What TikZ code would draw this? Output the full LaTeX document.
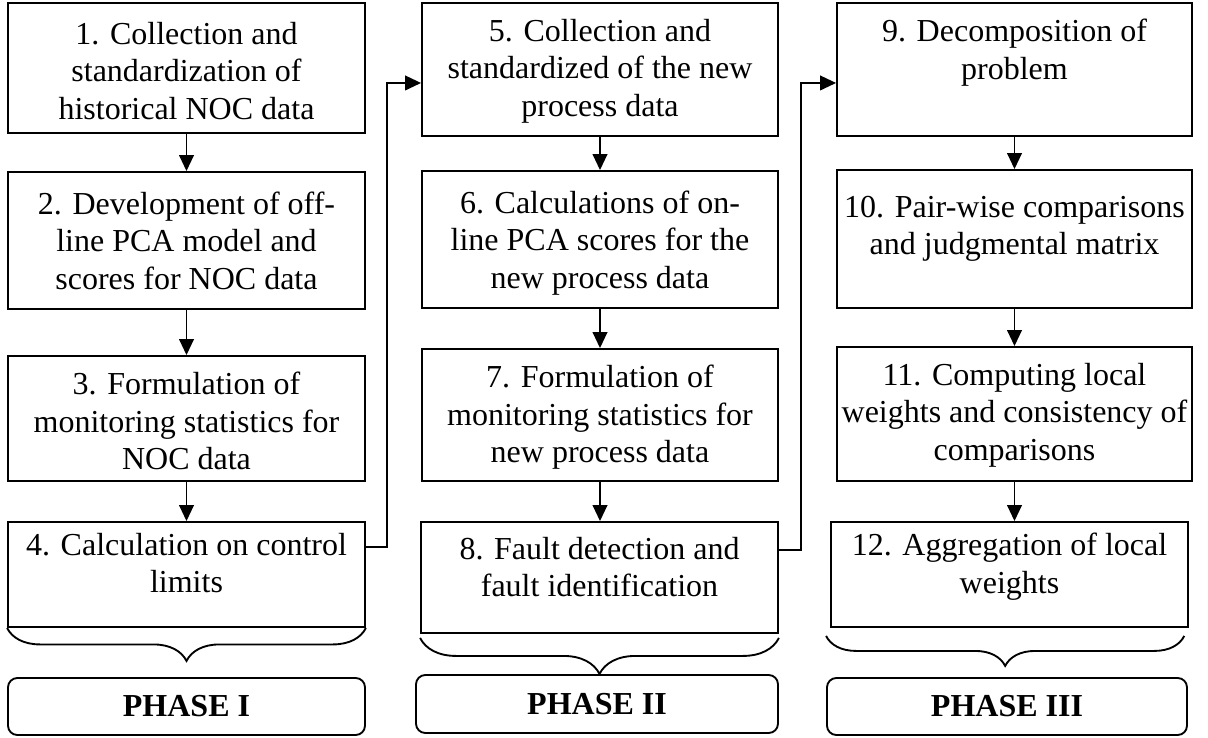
\documentclass[tikz,border=0pt]{standalone}
\usepackage{fontspec}
\setmainfont{Liberation Serif}
\usetikzlibrary{positioning,fit,arrows.meta,decorations.pathreplacing}

\tikzset{
  stepbox/.style={draw, line width=1.4pt, inner sep=0pt},
  steptext/.style={align=center, inner sep=0pt, font=\fontsize{24}{28}\selectfont},
  phasebox/.style={draw, line width=1.4pt, rounded corners=7pt, inner sep=0pt,
    font=\fontsize{24}{28}\selectfont\bfseries},
  flow/.style={line width=1.4pt, -{Triangle[length=12pt,width=11pt]}},
  phasebrace/.style={line width=1.4pt, decorate, decoration={brace, mirror, amplitude=#1}}
}

\begin{document}
\begin{tikzpicture}[x=0.75pt, y=-0.75pt]
\useasboundingbox (0,0) rectangle (1208,738);

% phase I column
\node[stepbox, fit={(8,3) (365,133)}] (s1) {};
\node[stepbox, fit={(8,172) (365,309)}] (s2) {};
\node[stepbox, fit={(8,356) (365,481)}] (s3) {};
\node[stepbox, fit={(8,522) (365,627)}] (s4) {};
\node[steptext, below=15pt of s1.north] (t1) {1. Collection and\\standardization of\\historical NOC data};
\node[steptext, below=15.5pt of s2.north] (t2) {2. Development of off-\\line PCA model and\\scores for NOC data};
\node[steptext, below=12.75pt of s3.north] (t3) {3. Formulation of\\monitoring statistics for\\NOC data};
\node[steptext, below=9pt of s4.north] (t4) {4. Calculation on control\\limits};

% phase II column
\node[stepbox, fit={(422,3) (778,136)}] (s5) {};
\node[stepbox, fit={(422,171) (778,308)}] (s6) {};
\node[stepbox, fit={(422,349) (778,481)}] (s7) {};
\node[stepbox, fit={(421,522) (778,633)}] (s8) {};
\node[steptext, below=12.75pt of s5.north] (t5) {5. Collection and\\standardized of the new\\process data};
\node[steptext, below=15.5pt of s6.north] (t6) {6. Calculations of on-\\line PCA scores for the\\new process data};
\node[steptext, below=12.75pt of s7.north] (t7) {7. Formulation of\\monitoring statistics for\\new process data};
\node[steptext, below=12pt of s8.north] (t8) {8. Fault detection and\\fault identification};

% phase III column
\node[stepbox, fit={(837,3) (1192,136)}] (s9) {};
\node[stepbox, fit={(837,170) (1192,308)}] (s10) {};
\node[stepbox, fit={(837,347) (1192,481)}] (s11) {};
\node[stepbox, fit={(831,522) (1188,627)}] (s12) {};
\node[steptext, below=12.75pt of s9.north] (t9) {9. Decomposition of\\problem};
\node[steptext, below=20pt of s10.north] (t10) {10. Pair-wise comparisons\\and judgmental matrix};
\node[steptext, below=12.75pt of s11.north] (t11) {11. Computing local\\weights and consistency of\\comparisons};
\node[steptext, below=9pt of s12.north] (t12) {12. Aggregation of local\\weights};

% phases
\node[phasebox, minimum width=267.75pt, minimum height=42.75pt] (p1) at (186.5,706.5) {PHASE I};
\node[phasebox, minimum width=271.5pt, minimum height=43.5pt] (p2) at (597,704) {PHASE II};
\node[phasebox, minimum width=270pt, minimum height=42.75pt] (p3) at (1007,706.5) {PHASE III};

% arrows
\draw[flow] (s1) -- (s2);
\draw[flow] (s2) -- (s3);
\draw[flow] (s3) -- (s4);
\draw[flow] (s5) -- (s6);
\draw[flow] (s6) -- (s7);
\draw[flow] (s7.south) -- (s7.south |- s8.north);
\draw[flow] (s9) -- (s10);
\draw[flow] (s10) -- (s11);
\draw[flow] (s11.south) -- (s11.south |- s12.north);
\draw[flow] ([yshift=20.6pt]s4.east) -- ++(21,0) |- ([yshift=-10.1pt]s5.west);
\draw[flow] ([yshift=20.6pt]s8.east) -- ++(22,0) |- ([yshift=-10.1pt]s9.west);

% braces
\draw[phasebrace=24.75pt] (s4.south west) -- (s4.south east);
\draw[phasebrace=27pt] ([yshift=-3pt]s8.south west) -- ([yshift=-3pt]s8.south east);
\draw[phasebrace=22.5pt] ([xshift=-3pt,yshift=-6pt]s12.south west) -- ([xshift=-3.5pt,yshift=-6pt]s12.south east);
\end{tikzpicture}
\end{document}
